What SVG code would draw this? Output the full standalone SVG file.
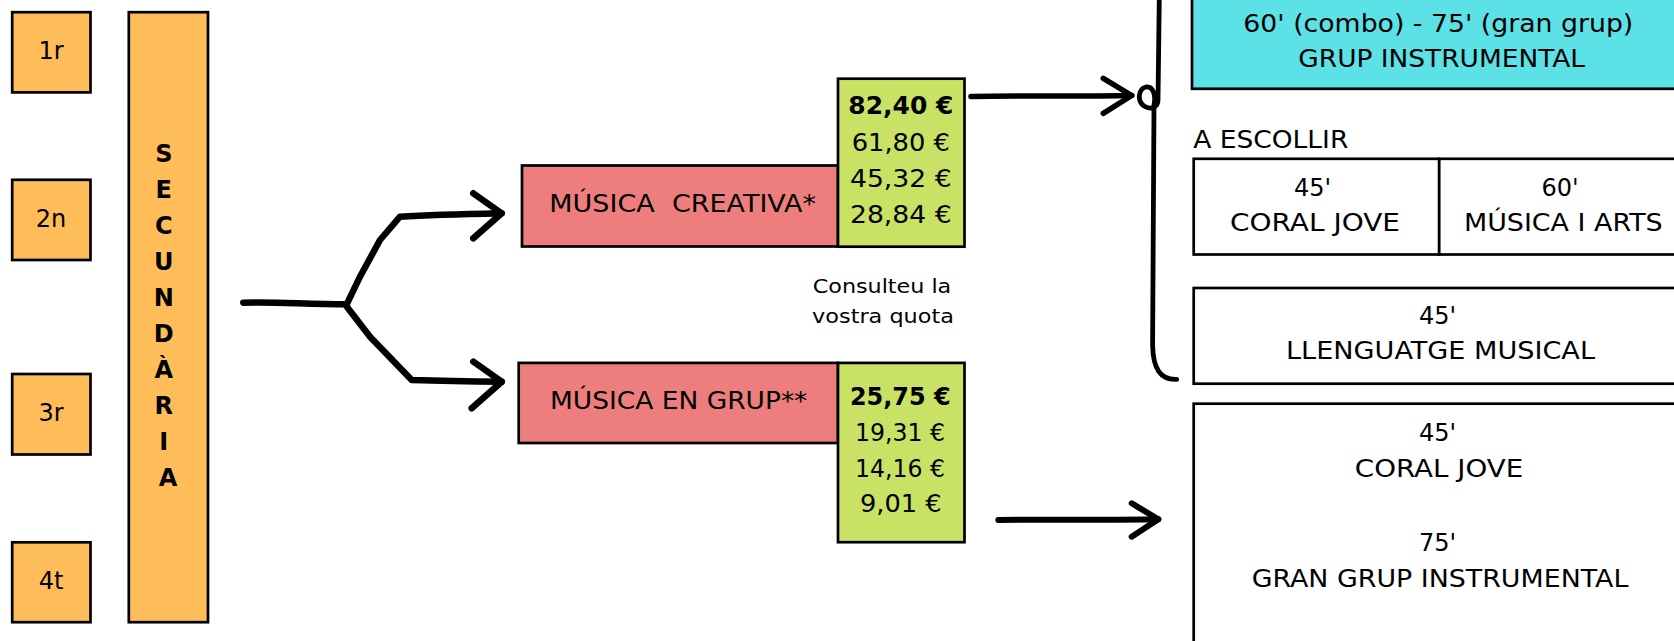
<svg xmlns="http://www.w3.org/2000/svg" width="1674" height="641" viewBox="0 0 1674 641">
<style>
  .t{font-family:"DejaVu Sans","Liberation Sans",sans-serif;fill:#000;}
  .m{text-anchor:middle;}
  .s24{font-size:24px;}
  .s20{font-size:20px;}
  .sec{font-family:"DejaVu Sans","Liberation Sans",sans-serif;font-size:24px;font-weight:bold;text-anchor:middle;fill:#000;}
  .b{font-weight:bold;}
  .box{stroke:#000;stroke-width:2.7;}
  .or{fill:#FFBD59;}
  .pk{fill:#EE7E7E;}
  .gr{fill:#C9E265;}
  .cy{fill:#5CE1E6;}
  .wh{fill:#FFFFFF;}
  .ink{fill:none;stroke:#000;stroke-linecap:round;stroke-linejoin:round;}
</style>
<rect x="0" y="0" width="1674" height="641" fill="#FFFFFF"/>

<g id="curs-1r">
  <rect class="box or" x="12.2" y="12.2" width="78.3" height="80.2"/>
  <text class="t s24 m" x="51" y="59.3">1r</text>
</g>
<g id="curs-2n">
  <rect class="box or" x="12.2" y="179.8" width="78.3" height="80.2"/>
  <text class="t s24 m" x="51" y="226.9">2n</text>
</g>
<g id="curs-3r">
  <rect class="box or" x="12.2" y="374" width="78.3" height="80.5"/>
  <text class="t s24 m" x="51" y="421.1">3r</text>
</g>
<g id="curs-4t">
  <rect class="box or" x="12.2" y="542.3" width="78.3" height="79.9"/>
  <text class="t s24 m" x="51" y="588.7">4t</text>
</g>

<g id="secundaria">
  <rect class="box or" x="128.8" y="12.2" width="79.2" height="610"/>
  <text class="sec">
    <tspan x="168" y="161.5">S</tspan>
    <tspan x="168" y="197.6">E</tspan>
    <tspan x="168" y="233.7">C</tspan>
    <tspan x="168" y="269.8">U</tspan>
    <tspan x="168" y="305.9">N</tspan>
    <tspan x="168" y="342">D</tspan>
    <tspan x="168" y="378.1">À</tspan>
    <tspan x="168" y="414.2">R</tspan>
    <tspan x="168" y="450.3">I</tspan>
    <tspan x="168" y="486.4">A</tspan>
  </text>
</g>

<g id="musica-creativa">
  <rect class="box pk" x="522" y="165.5" width="316" height="81"/>
  <text class="t s24 m" x="682.7" y="211.7" textLength="266.7" lengthAdjust="spacingAndGlyphs" xml:space="preserve">MÚSICA  CREATIVA*</text>
</g>
<g id="preus-creativa">
  <rect class="box gr" x="838" y="78.7" width="126.5" height="168"/>
  <text class="t s24 m b" x="900.8" y="114" textLength="105" lengthAdjust="spacingAndGlyphs">82,40 €</text>
  <text class="t s24 m" x="900.8" y="150.7" textLength="98.3" lengthAdjust="spacingAndGlyphs">61,80 €</text>
  <text class="t s24 m" x="900.8" y="186.7" textLength="101.7" lengthAdjust="spacingAndGlyphs">45,32 €</text>
  <text class="t s24 m" x="900.8" y="222.7" textLength="101.7" lengthAdjust="spacingAndGlyphs">28,84 €</text>
</g>

<g id="nota-quota">
  <text class="t s20 m" x="882" y="293.3" textLength="138.5" lengthAdjust="spacingAndGlyphs">Consulteu la</text>
  <text class="t s20 m" x="883" y="322.7" textLength="141.8" lengthAdjust="spacingAndGlyphs">vostra quota</text>
</g>

<g id="musica-en-grup">
  <rect class="box pk" x="518.7" y="362.9" width="319.3" height="80.1"/>
  <text class="t s24 m" x="678.7" y="409" textLength="257.3" lengthAdjust="spacingAndGlyphs">MÚSICA EN GRUP**</text>
</g>
<g id="preus-grup">
  <rect class="box gr" x="838" y="362.9" width="126.5" height="179.3"/>
  <text class="t s24 m b" x="900.3" y="405" textLength="100.7" lengthAdjust="spacingAndGlyphs">25,75 €</text>
  <text class="t s24 m" x="900" y="440.7" textLength="90" lengthAdjust="spacingAndGlyphs">19,31 €</text>
  <text class="t s24 m" x="900" y="476.7" textLength="90" lengthAdjust="spacingAndGlyphs">14,16 €</text>
  <text class="t s24 m" x="900.8" y="511.7" textLength="81.7" lengthAdjust="spacingAndGlyphs">9,01 €</text>
</g>

<g id="grup-instrumental">
  <rect class="box cy" x="1192" y="-6" width="500" height="94.8"/>
  <text class="t s24 m" x="1438.3" y="31.7" textLength="390" lengthAdjust="spacingAndGlyphs">60' (combo) - 75' (gran grup)</text>
  <text class="t s24 m" x="1441.7" y="66.7" textLength="286.7" lengthAdjust="spacingAndGlyphs">GRUP INSTRUMENTAL</text>
</g>

<g id="a-escollir">
  <text class="t s24" x="1193.3" y="148.3" textLength="155" lengthAdjust="spacingAndGlyphs">A ESCOLLIR</text>
</g>

<g id="coral-jove-45">
  <rect class="box wh" x="1193.7" y="158.8" width="245.5" height="95.7"/>
  <text class="t s24 m" x="1312.5" y="196">45'</text>
  <text class="t s24 m" x="1315" y="231" textLength="170" lengthAdjust="spacingAndGlyphs">CORAL JOVE</text>
</g>
<g id="musica-i-arts">
  <rect class="box wh" x="1439.2" y="158.8" width="250" height="95.7"/>
  <text class="t s24 m" x="1560" y="196">60'</text>
  <text class="t s24 m" x="1563.3" y="231" textLength="198.7" lengthAdjust="spacingAndGlyphs">MÚSICA I ARTS</text>
</g>

<g id="llenguatge-musical">
  <rect class="box wh" x="1193.7" y="288" width="500" height="95.7"/>
  <text class="t s24 m" x="1437.5" y="324.3">45'</text>
  <text class="t s24 m" x="1440.5" y="359.3" textLength="309" lengthAdjust="spacingAndGlyphs">LLENGUATGE MUSICAL</text>
</g>

<g id="coral-gran-grup">
  <rect class="box wh" x="1193.7" y="403.7" width="500" height="260"/>
  <text class="t s24 m" x="1437.5" y="441">45'</text>
  <text class="t s24 m" x="1439" y="477.3" textLength="168.3" lengthAdjust="spacingAndGlyphs">CORAL JOVE</text>
  <text class="t s24 m" x="1437.5" y="551">75'</text>
  <text class="t s24 m" x="1440" y="586.7" textLength="376.7" lengthAdjust="spacingAndGlyphs">GRAN GRUP INSTRUMENTAL</text>
</g>

<g id="connectors">
  <!-- branch from SECUNDÀRIA -->
  <path class="ink" stroke-width="6.5" d="M243.3,302.7 C270,301.5 300,303.8 346.7,304.3"/>
  <path class="ink" stroke-width="6.5" d="M346.7,304.3 L360,276.7 L380,240 L400,216.7 C430,215 470,214 501.7,213.3"/>
  <path class="ink" stroke-width="6.5" d="M473.3,193.3 L501.7,213.3 L473.3,238.3"/>
  <path class="ink" stroke-width="6.5" d="M346.7,306.5 L370,336.7 L411.7,380 C440,381 470,381.5 501.7,381.7"/>
  <path class="ink" stroke-width="6.5" d="M473.3,361.7 L501.7,381.7 L471.7,408.3"/>
  <!-- creativa prices to bracket -->
  <path class="ink" stroke-width="5.5" d="M971,96.5 C1030,95.5 1080,96.5 1131.7,95.5"/>
  <path class="ink" stroke-width="5.5" d="M1103.3,78.3 L1131.7,95.5 L1103.3,113.3"/>
  <!-- bracket with loop -->
  <path class="ink" stroke-width="4.8" d="M1159.3,-3 L1158,100 C1158,108 1150,110 1144,106 C1137,101 1138,89 1146,87 C1153,86 1156,95 1154,105 L1152.6,345 C1153,368 1160,380 1176.7,379.3"/>
  <!-- grup prices to big box -->
  <path class="ink" stroke-width="6" d="M998.3,520 C1050,519 1100,520.5 1158.3,519.3"/>
  <path class="ink" stroke-width="6" d="M1131.7,503.3 L1158.3,519.3 L1131.7,536.7"/>
</g>
</svg>
